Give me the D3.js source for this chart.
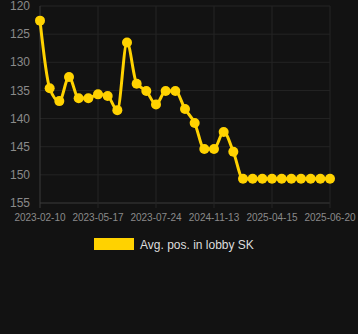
<!DOCTYPE html>
<html>
<head>
<meta charset="utf-8">
<script src="https://cdn.jsdelivr.net/npm/d3@7"></script>
<style>
  body { margin: 0; background: #121212; }
  svg { display: block; font-family: "Liberation Sans", Arial, sans-serif; }
</style>
</head>
<body>
<div id="chart"></div>
<script>
// Avg. position in lobby, one value per snapshot
const positions = [
  122.6, 134.6, 136.9, 132.6, 136.4, 136.4, 135.7, 136.0, 138.5, 126.5,
  133.8, 135.1, 137.5, 135.1, 135.1, 138.3, 140.8, 145.4, 145.4, 142.4,
  145.9, 150.7, 150.7, 150.7, 150.7, 150.7, 150.7, 150.7, 150.7, 150.7, 150.7
];
// labels shown on the x axis (every 6th point)
const tickLabels = ["2023-02-10", "2023-05-17", "2023-07-24", "2024-11-13", "2025-04-15", "2025-06-20"];
const yTicks = [120, 125, 130, 135, 140, 145, 150, 155];
const seriesName = "Avg. pos. in lobby SK";

const width = 358, height = 334;
const margin = { top: 6, right: 28, bottom: 131, left: 40 };
const color = "#ffd200";

const svg = d3.select("#chart").append("svg")
  .attr("width", width)
  .attr("height", height);

const x = d3.scaleLinear()
  .domain([0, positions.length - 1])
  .range([margin.left, width - margin.right]);

const y = d3.scaleLinear()
  .domain([120, 155])
  .range([margin.top, height - margin.bottom]);

// grid
const tickIdx = tickLabels.map((d, i) => i * 6);
svg.append("g")
  .selectAll("line")
  .data(yTicks)
  .enter().append("line")
  .attr("x1", margin.left).attr("x2", width - margin.right)
  .attr("y1", d => y(d)).attr("y2", d => y(d))
  .attr("stroke", d => d === 155 ? "#3a3a3a" : "#242424")
  .attr("stroke-width", 1);

svg.append("g")
  .selectAll("line")
  .data(tickIdx)
  .enter().append("line")
  .attr("x1", d => x(d)).attr("x2", d => x(d))
  .attr("y1", margin.top).attr("y2", y(155) + 5)
  .attr("stroke", (d, i) => i === 0 ? "#3a3a3a" : "#242424")
  .attr("stroke-width", 1);

// y tick labels
svg.append("g")
  .selectAll("text")
  .data(yTicks)
  .enter().append("text")
  .attr("x", 30)
  .attr("y", d => y(d))
  .attr("dy", "0.35em")
  .attr("text-anchor", "end")
  .attr("font-size", "12px")
  .attr("fill", "#8a8a8a")
  .text(d => d);

// x tick labels
svg.append("g")
  .selectAll("text")
  .data(tickIdx)
  .enter().append("text")
  .attr("x", d => x(d))
  .attr("y", y(155) + 18)
  .attr("text-anchor", "middle")
  .attr("font-size", "10px")
  .attr("fill", "#8a8a8a")
  .text((d, i) => tickLabels[i]);

// line
const line = d3.line()
  .x((d, i) => x(i))
  .y(d => y(d))
  .curve(d3.curveMonotoneX);

svg.append("path")
  .datum(positions)
  .attr("fill", "none")
  .attr("stroke", color)
  .attr("stroke-width", 3)
  .attr("d", line);

svg.append("g")
  .selectAll("circle")
  .data(positions)
  .enter().append("circle")
  .attr("cx", (d, i) => x(i))
  .attr("cy", d => y(d))
  .attr("r", 5)
  .attr("fill", color);

// legend
const legend = svg.append("g").attr("transform", "translate(94, 238)");
legend.append("rect")
  .attr("width", 40).attr("height", 12)
  .attr("fill", color);
legend.append("text")
  .attr("x", 46).attr("y", 10.5)
  .attr("font-size", "12px")
  .attr("fill", "#dddddd")
  .text(seriesName);
</script>
</body>
</html>
